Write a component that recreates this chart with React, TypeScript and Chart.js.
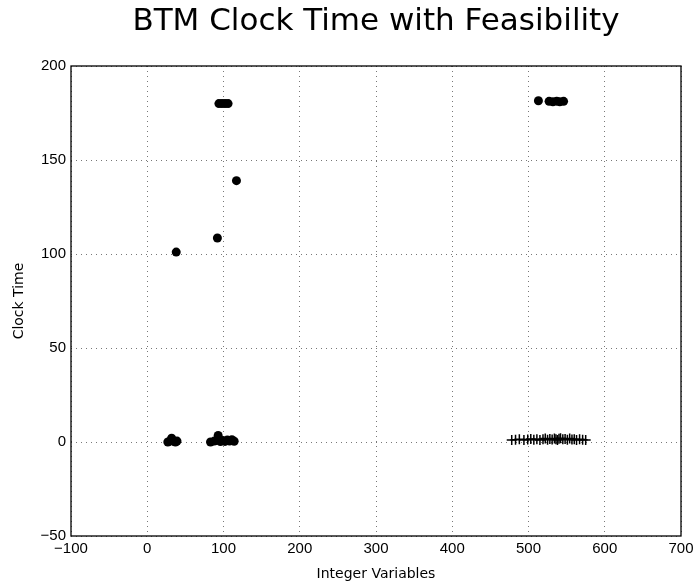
import React, { useEffect, useRef } from "react";
import { Chart, registerables } from "chart.js";

Chart.register(...registerables);

const titleText = "BTM Clock Time with Feasibility";
const xLabel = "Integer Variables";
const yLabel = "Clock Time";

// Infeasible / timed-out runs (circles)
const circleX = [94, 98, 102, 106, 513, 527, 532, 537, 541, 546, 117, 38, 92, 27, 30, 32, 35, 37, 39, 83, 93, 88, 92, 96, 99, 102, 105, 108, 111, 114];
const circleY = [180, 180, 180, 180, 181.5, 181.2, 181, 181.3, 181, 181.2, 139, 101, 108.5, 0, 0.5, 2, 0.3, 0, 0.5, 0, 3.5, 0.5, 1, 0.2, 0.8, 0.3, 1, 0.5, 1.2, 0.4];

// Feasible runs (plus markers)
const plusX = [478, 483, 488, 494, 499, 503, 507, 511, 515, 519, 522, 525, 528, 531, 534, 536, 538, 540, 542, 545, 548, 551, 554, 557, 560, 563, 567, 571, 575];
const plusY = [1, 1.2, 1.5, 1, 1.3, 1.6, 1.2, 1.4, 1, 1.5, 1.8, 1.2, 1.6, 1.3, 1.9, 1.5, 1.1, 1.7, 2, 1.4, 1.6, 1.2, 1.8, 1.3, 1.5, 1.1, 1.4, 1.2, 1];

const xTicks = [-100, 0, 100, 200, 300, 400, 500, 600, 700];
const yTicks = [-50, 0, 50, 100, 150, 200];

const fmt = (v: number) => (v < 0 ? "\u2212" + Math.abs(v) : String(v));

export default function App() {
  const ref = useRef<HTMLCanvasElement>(null);
  useEffect(() => {
    if (!ref.current) return;
    const frame = {
      id: "frame",
      afterDraw(chart: any) {
        const { ctx, chartArea: a } = chart;
        ctx.save();
        ctx.strokeStyle = "#000";
        ctx.lineWidth = 1.3;
        ctx.strokeRect(a.left, a.top, a.right - a.left, a.bottom - a.top);
        ctx.fillStyle = "#000";
        ctx.font = "31px 'DejaVu Sans'";
        ctx.textAlign = "center";
        ctx.textBaseline = "middle";
        ctx.fillText(titleText, (a.left + a.right) / 2, 22);
        ctx.restore();
      },
    };
    const chart = new Chart(ref.current, {
      type: "scatter",
      data: {
        datasets: [
          {
            data: circleX.map((x, i) => ({ x, y: circleY[i] })),
            pointStyle: "circle",
            pointRadius: 4.5,
            backgroundColor: "#000",
            borderColor: "#000",
            borderWidth: 0,
          },
          {
            data: plusX.map((x, i) => ({ x, y: plusY[i] })),
            pointStyle: "cross",
            pointRadius: 5,
            borderColor: "#000",
            borderWidth: 1.5,
            backgroundColor: "#000",
          },
        ],
      },
      options: {
        animation: false,
        responsive: false,
        layout: { padding: { top: 66, right: 18, left: 0, bottom: 0 } },
        plugins: { legend: { display: false }, tooltip: { enabled: false }, title: { display: false } },
        scales: {
          x: {
            type: "linear",
            min: -100,
            max: 700,
            afterBuildTicks: (s: any) => {
              s.ticks = xTicks.map((v) => ({ value: v }));
            },
            afterFit: (s: any) => {
              s.height = 49;
            },
            grid: { color: "#555", lineWidth: 0.8, drawTicks: false } as any,
            border: { display: false, dash: [1, 4] },
            ticks: {
              color: "#000",
              font: { family: "'Liberation Sans'", size: 15 },
              padding: 4,
              maxRotation: 0,
              callback: (v: any) => fmt(Number(v)),
            },
            title: {
              display: true,
              text: xLabel,
              color: "#000",
              font: { family: "'DejaVu Sans'", size: 14 },
              padding: { top: 2, bottom: 2 },
            },
          },
          y: {
            type: "linear",
            min: -50,
            max: 200,
            afterBuildTicks: (s: any) => {
              s.ticks = yTicks.map((v) => ({ value: v }));
            },
            afterFit: (s: any) => {
              s.width = 71;
            },
            grid: { color: "#555", lineWidth: 0.8, drawTicks: false } as any,
            border: { display: false, dash: [1, 4] },
            ticks: {
              color: "#000",
              font: { family: "'Liberation Sans'", size: 15 },
              padding: 5,
              callback: (v: any) => fmt(Number(v)),
            },
            title: {
              display: true,
              text: yLabel,
              color: "#000",
              font: { family: "'DejaVu Sans'", size: 14 },
              padding: { top: 11, bottom: 0 },
            },
          },
        },
      },
      plugins: [frame],
    } as any);
    return () => chart.destroy();
  }, []);
  return (
    <div style={{ position: "absolute", left: 0, top: 0, width: 699, height: 585 }}>
      <canvas ref={ref} width={699} height={585} style={{ width: 699, height: 585 }} />
    </div>
  );
}
